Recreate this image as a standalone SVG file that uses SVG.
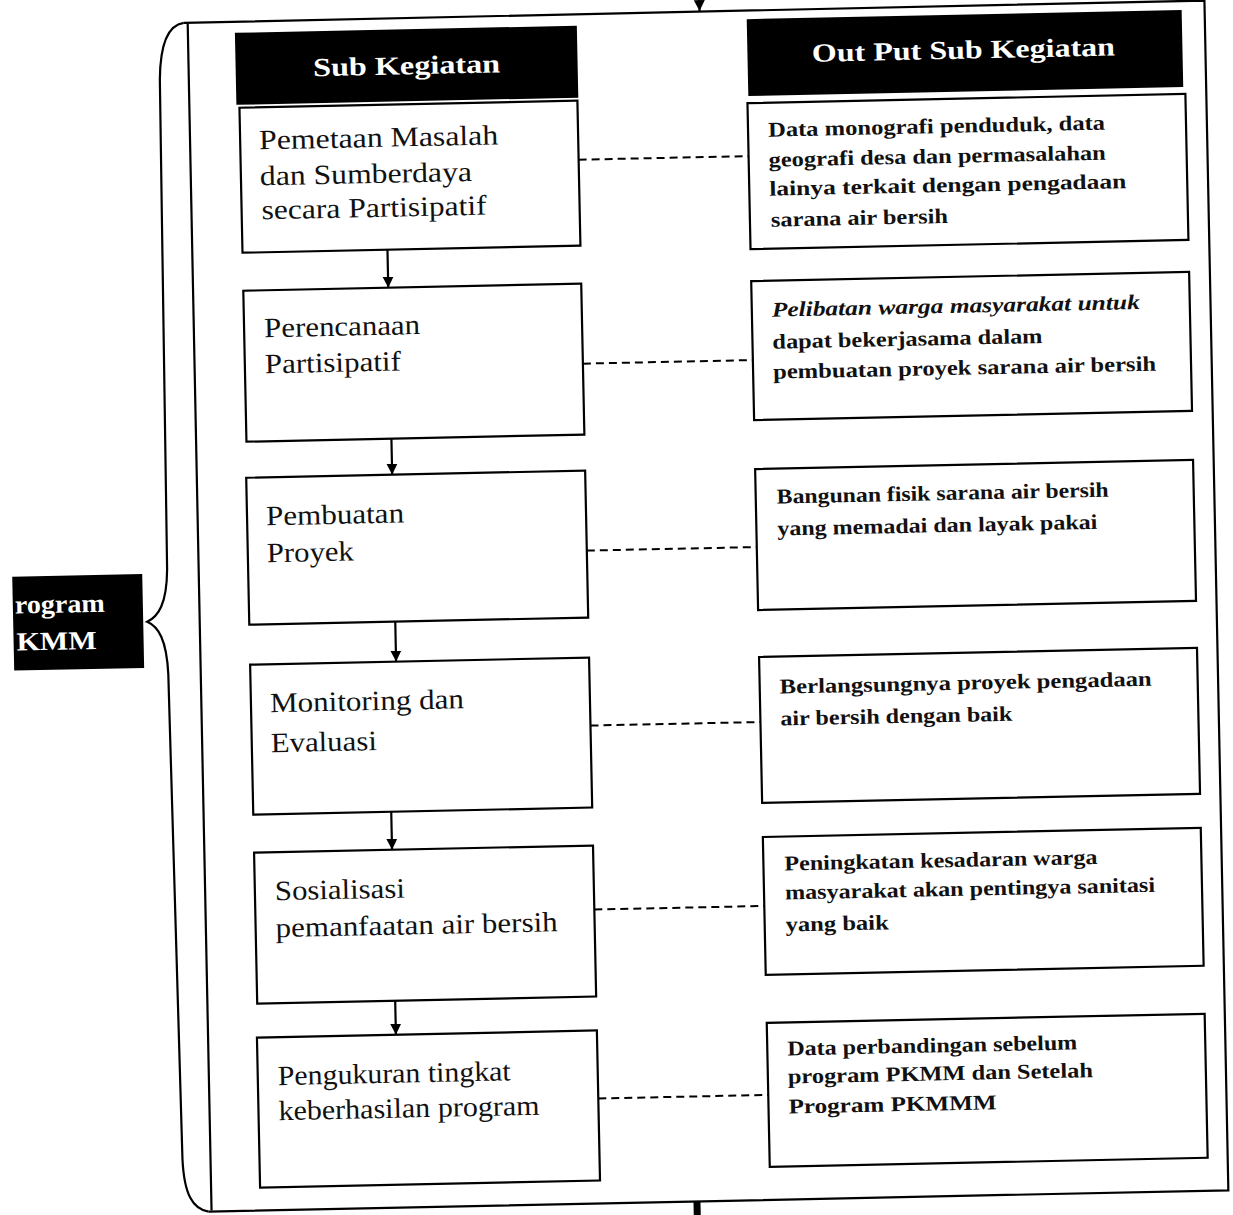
<svg xmlns="http://www.w3.org/2000/svg" width="1233" height="1215" viewBox="0 0 1233 1215">
<defs>
<marker id="ah" markerWidth="12" markerHeight="12" refX="11" refY="6" orient="auto" markerUnits="userSpaceOnUse"><path d="M0,0.5 L11,6 L0,11.5 Z" fill="#000"/></marker>
<style>
.box{fill:#fff;stroke:#000;stroke-width:2.2}
.hdr{fill:#000}
.ht{font-family:"Liberation Serif",serif;font-weight:bold;font-size:26px;fill:#fff}
.lt{font-family:"Liberation Serif",serif;font-size:28px;fill:#111}
.rt{font-family:"Liberation Serif",serif;font-weight:bold;font-size:21px;fill:#111}
.arr{stroke:#000;stroke-width:2.2;fill:none}
.dash{stroke:#000;stroke-width:2;stroke-dasharray:8 5;fill:none}
.frame{stroke:#000;stroke-width:2.2;fill:none}
</style>
</defs>
<rect width="1233" height="1215" fill="#fff"/>
<g transform="rotate(-1.2 616 607)">
  <g id="frame">
    <path class="frame" d="M196,14 L1217,13 L1216,1203 L196,1203"/>
    <path class="frame" d="M200,14 L199,1202"/>
    <path class="frame" d="M196,14 C180,16 172,35 171,70 L168,560 C167,595 158,607 147,612 C158,617 166,630 167,665 L171,1150 C172,1185 180,1200 196,1203"/>
  </g>
  <g id="label">
    <rect x="13" y="564" width="130" height="94" fill="#000"/>
    <text class="ht" x="15" y="601" font-size="28" textLength="90" lengthAdjust="spacingAndGlyphs">rogram</text>
    <text class="ht" x="16" y="638" font-size="28" textLength="80" lengthAdjust="spacingAndGlyphs">KMM</text>
  </g>
  <g id="header-left">
    <rect class="hdr" x="247" y="25" width="342" height="72"/>
    <text class="ht" x="418" y="70" text-anchor="middle" textLength="187" lengthAdjust="spacingAndGlyphs">Sub Kegiatan</text>
  </g>
  <g id="header-right">
    <rect class="hdr" x="759" y="22" width="435" height="77"/>
    <text class="ht" x="975" y="66" text-anchor="middle" textLength="303" lengthAdjust="spacingAndGlyphs">Out Put Sub Kegiatan</text>
  </g>
  <g id="sub1">
    <rect class="box" x="250" y="100" width="338" height="145"/>
    <text class="lt" x="269" y="142" textLength="239" lengthAdjust="spacingAndGlyphs">Pemetaan Masalah</text>
    <text class="lt" x="269" y="178" textLength="212" lengthAdjust="spacingAndGlyphs">dan Sumberdaya</text>
    <text class="lt" x="270" y="212" textLength="225" lengthAdjust="spacingAndGlyphs">secara Partisipatif</text>
  </g>
  <g id="sub2">
    <rect class="box" x="250" y="283" width="338" height="151"/>
    <text class="lt" x="270" y="330" textLength="156" lengthAdjust="spacingAndGlyphs">Perencanaan</text>
    <text class="lt" x="270" y="366" textLength="136" lengthAdjust="spacingAndGlyphs">Partisipatif</text>
  </g>
  <g id="sub3">
    <rect class="box" x="249" y="470" width="339" height="147"/>
    <text class="lt" x="268" y="518" textLength="138" lengthAdjust="spacingAndGlyphs">Pembuatan</text>
    <text class="lt" x="268" y="555" textLength="87" lengthAdjust="spacingAndGlyphs">Proyek</text>
  </g>
  <g id="sub4">
    <rect class="box" x="249" y="657" width="339" height="150"/>
    <text class="lt" x="268" y="705" textLength="194" lengthAdjust="spacingAndGlyphs">Monitoring dan</text>
    <text class="lt" x="268" y="745" textLength="106" lengthAdjust="spacingAndGlyphs">Evaluasi</text>
  </g>
  <g id="sub5">
    <rect class="box" x="249" y="845" width="339" height="151"/>
    <text class="lt" x="269" y="893" textLength="130" lengthAdjust="spacingAndGlyphs">Sosialisasi</text>
    <text class="lt" x="269" y="930" textLength="282" lengthAdjust="spacingAndGlyphs">pemanfaatan air bersih</text>
  </g>
  <g id="sub6">
    <rect class="box" x="248" y="1030" width="340" height="150"/>
    <text class="lt" x="268" y="1078" textLength="233" lengthAdjust="spacingAndGlyphs">Pengukuran tingkat</text>
    <text class="lt" x="268" y="1113" textLength="261" lengthAdjust="spacingAndGlyphs">keberhasilan program</text>
  </g>
  <g id="out1">
    <rect class="box" x="758" y="106" width="438" height="146"/>
    <text class="rt" x="778" y="140" textLength="337" lengthAdjust="spacingAndGlyphs">Data monografi penduduk, data</text>
    <text class="rt" x="778" y="170" textLength="337" lengthAdjust="spacingAndGlyphs">geografi desa dan permasalahan</text>
    <text class="rt" x="778" y="199" textLength="357" lengthAdjust="spacingAndGlyphs">lainya terkait dengan pengadaan</text>
    <text class="rt" x="779" y="230" textLength="177" lengthAdjust="spacingAndGlyphs">sarana air bersih</text>
  </g>
  <g id="out2">
    <rect class="box" x="758" y="284" width="438" height="139"/>
    <text class="rt" x="778" y="320" font-style="italic" textLength="368" lengthAdjust="spacingAndGlyphs">Pelibatan warga masyarakat untuk</text>
    <text class="rt" x="778" y="352" textLength="270" lengthAdjust="spacingAndGlyphs">dapat bekerjasama dalam</text>
    <text class="rt" x="778" y="382" textLength="383" lengthAdjust="spacingAndGlyphs">pembuatan proyek sarana air bersih</text>
  </g>
  <g id="out3">
    <rect class="box" x="758" y="472" width="438" height="141"/>
    <text class="rt" x="779" y="507" textLength="332" lengthAdjust="spacingAndGlyphs">Bangunan fisik sarana air bersih</text>
    <text class="rt" x="779" y="539" textLength="320" lengthAdjust="spacingAndGlyphs">yang memadai dan layak pakai</text>
  </g>
  <g id="out4">
    <rect class="box" x="758" y="660" width="438" height="146"/>
    <text class="rt" x="778" y="697" textLength="372" lengthAdjust="spacingAndGlyphs">Berlangsungnya proyek pengadaan</text>
    <text class="rt" x="778" y="729" textLength="232" lengthAdjust="spacingAndGlyphs">air bersih dengan baik</text>
  </g>
  <g id="out5">
    <rect class="box" x="758" y="840" width="438" height="138"/>
    <text class="rt" x="779" y="874" textLength="313" lengthAdjust="spacingAndGlyphs">Peningkatan kesadaran warga</text>
    <text class="rt" x="779" y="903" textLength="370" lengthAdjust="spacingAndGlyphs">masyarakat akan pentingya sanitasi</text>
    <text class="rt" x="779" y="935" textLength="103" lengthAdjust="spacingAndGlyphs">yang baik</text>
  </g>
  <g id="out6">
    <rect class="box" x="758" y="1026" width="438" height="144"/>
    <text class="rt" x="778" y="1059" textLength="290" lengthAdjust="spacingAndGlyphs">Data perbandingan sebelum</text>
    <text class="rt" x="778" y="1087" textLength="305" lengthAdjust="spacingAndGlyphs">program PKMM dan Setelah</text>
    <text class="rt" x="778" y="1117" textLength="208" lengthAdjust="spacingAndGlyphs">Program PKMMM</text>
  </g>
  <g id="connectors">
    <line class="arr" x1="712" y1="-20" x2="712" y2="13" marker-end="url(#ah)"/>
    <rect x="681" y="1203" width="7" height="20" fill="#000"/>
    <line class="arr" x1="395" y1="245" x2="395" y2="283" marker-end="url(#ah)"/>
    <line class="arr" x1="395" y1="434" x2="395" y2="470" marker-end="url(#ah)"/>
    <line class="arr" x1="395" y1="617" x2="395" y2="657" marker-end="url(#ah)"/>
    <line class="arr" x1="387" y1="807" x2="387" y2="845" marker-end="url(#ah)"/>
    <line class="arr" x1="387" y1="996" x2="387" y2="1030" marker-end="url(#ah)"/>
    <line class="dash" x1="588" y1="159" x2="758" y2="159"/>
    <line class="dash" x1="588" y1="363" x2="758" y2="363"/>
    <line class="dash" x1="588" y1="550" x2="758" y2="550"/>
    <line class="dash" x1="588" y1="725" x2="758" y2="725"/>
    <line class="dash" x1="588" y1="909" x2="758" y2="909"/>
    <line class="dash" x1="588" y1="1098" x2="758" y2="1098"/>
  </g>
</g>
</svg>
